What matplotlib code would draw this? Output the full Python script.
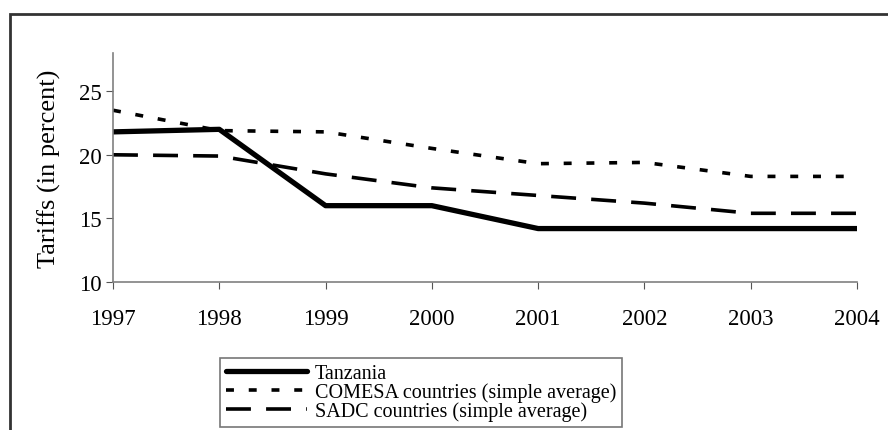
import matplotlib.pyplot as plt
from matplotlib.patches import Rectangle

years = [1997, 1998, 1999, 2000, 2001, 2002, 2003, 2004]
tanzania = [21.8, 22.0, 16.0, 16.0, 14.2, 14.2, 14.2, 14.2]
comesa = [23.5, 21.9, 21.8, 20.5, 19.3, 19.4, 18.3, 18.3]
sadc = [20.0, 19.9, 18.5, 17.4, 16.8, 16.2, 15.4, 15.4]
labels = ["Tanzania", "COMESA countries (simple average)", "SADC countries (simple average)"]

plt.rcParams["font.family"] = ["Liberation Serif", "DejaVu Serif"]

W, H = 888, 431
fig = plt.figure(figsize=(W / 100, H / 100), dpi=100)
ax = fig.add_axes([113 / W, 1 - 283 / H, (857 - 113) / W, (283 - 54) / H])

# outer frame (only top and left edges visible)
fig.patches.append(Rectangle((10 / W, -0.1), 1.2, 1 - 15 / H + 0.1, transform=fig.transFigure,
                             fill=False, edgecolor="#333333", linewidth=2))

ax.plot(years, tanzania, color="black", linewidth=3.8, solid_capstyle="round", label=labels[0])
ax.plot(years, comesa, color="black", linewidth=2.6, dashes=(2.2, 4.1), label=labels[1])
ax.plot(years, sadc, color="black", linewidth=2.6, dashes=(6.9, 4.2), label=labels[2])

ax.set_xlim(1997, 2004)
ax.set_ylim(10, 28)
ax.set_xticks(years)
ax.set_yticks([10, 15, 20, 25])
ax.tick_params(axis="x", direction="out", length=5, pad=14, labelsize=16.5, color="#555555")
ax.tick_params(axis="y", direction="out", length=5, pad=3, labelsize=16.5, color="#555555")
for s in ["top", "right"]:
    ax.spines[s].set_visible(False)
for s in ["left", "bottom"]:
    ax.spines[s].set_color("#808080")
    ax.spines[s].set_linewidth(1.2)
ax.set_ylabel("Tariffs (in percent)", fontsize=19)
ax.yaxis.set_label_coords(-0.070, 0.5)

leg = fig.legend(loc="upper left", bbox_to_anchor=(220 / W, 1 - 359 / H), ncol=1,
                 fontsize=14.5, frameon=True, fancybox=False, handlelength=4.0,
                 handletextpad=0.4, borderpad=0.3, labelspacing=-0.04, borderaxespad=0)
leg.get_frame().set_edgecolor("#555555")
leg.get_frame().set_linewidth(1.2)

fig.savefig("out.png", dpi=100)
